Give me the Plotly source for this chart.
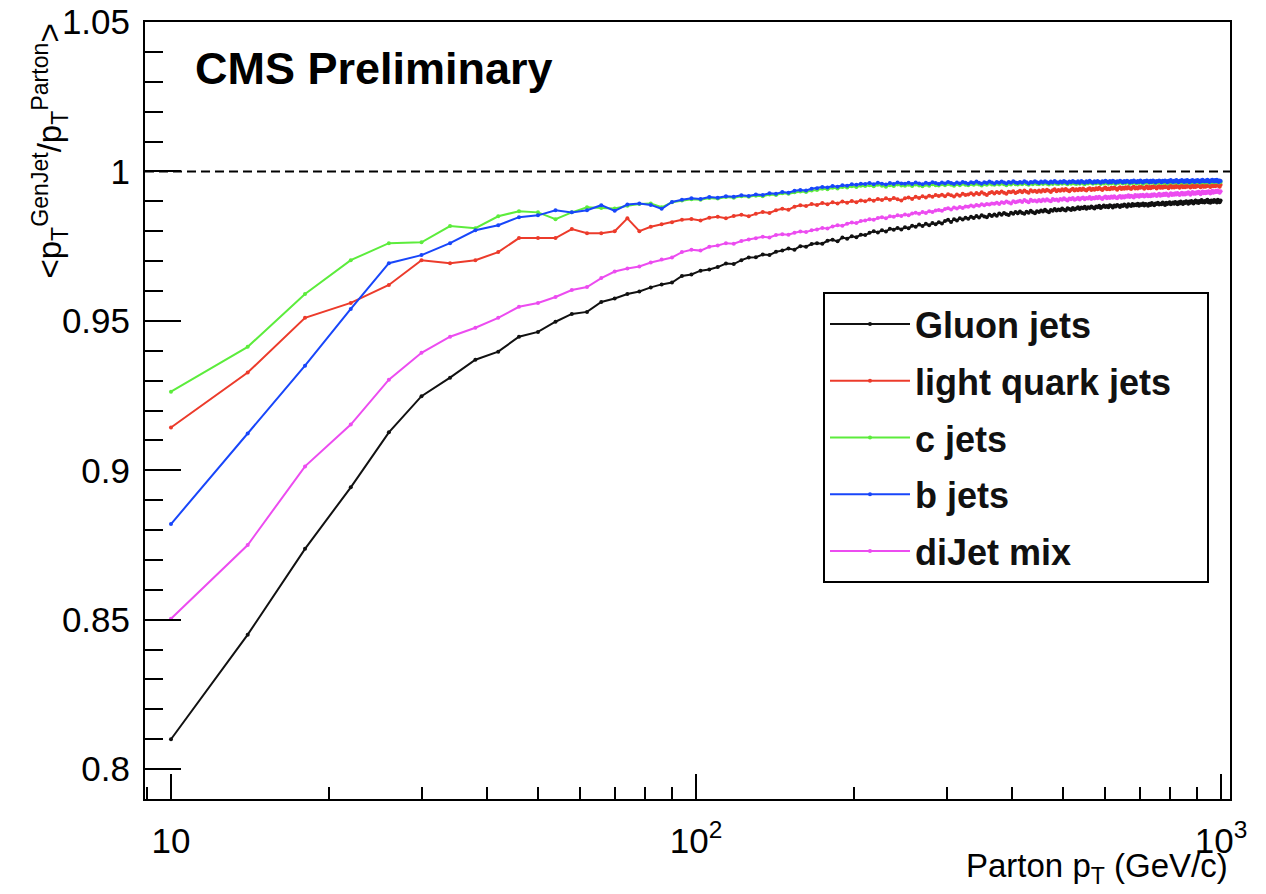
import plotly.graph_objects as go

# Parton pT bin centres (GeV/c), 4 GeV wide bins from 10 to 998
PT_GEV = list(range(10, 1000, 4))

# <pT(GenJet)/pT(Parton)> per bin, one row = 10 bins (40 GeV)
GLUON = [
    0.8100, 0.8450, 0.8737, 0.8943, 0.9127, 0.9248, 0.9310, 0.9370, 0.9397, 0.9447,
    0.9463, 0.9497, 0.9523, 0.9530, 0.9563, 0.9575, 0.9590, 0.9598, 0.9612, 0.9622,
    0.9628, 0.9650, 0.9655, 0.9668, 0.9672, 0.9680, 0.9692, 0.9690, 0.9703, 0.9712,
    0.9713, 0.9722, 0.9720, 0.9731, 0.9735, 0.9742, 0.9738, 0.9750, 0.9748, 0.9757,
    0.9760, 0.9758, 0.9768, 0.9771, 0.9766, 0.9779, 0.9775, 0.9783, 0.9780, 0.9788,
    0.9787, 0.9795, 0.9800, 0.9796, 0.9803, 0.9799, 0.9808, 0.9805, 0.9811, 0.9806,
    0.9813, 0.9810, 0.9818, 0.9815, 0.9822, 0.9817, 0.9825, 0.9820, 0.9827, 0.9823,
    0.9830, 0.9826, 0.9834, 0.9838, 0.9831, 0.9840, 0.9836, 0.9843, 0.9839, 0.9845,
    0.9842, 0.9848, 0.9844, 0.9851, 0.9846, 0.9853, 0.9849, 0.9847, 0.9855, 0.9851,
    0.9856, 0.9852, 0.9859, 0.9855, 0.9861, 0.9857, 0.9854, 0.9862, 0.9858, 0.9864,
    0.9860, 0.9866, 0.9861, 0.9858, 0.9865, 0.9862, 0.9868, 0.9863, 0.9860, 0.9867,
    0.9864, 0.9869, 0.9866, 0.9872, 0.9867, 0.9863, 0.9871, 0.9868, 0.9874, 0.9869,
    0.9873, 0.9870, 0.9876, 0.9872, 0.9869, 0.9877, 0.9874, 0.9871, 0.9878, 0.9873,
    0.9876, 0.9880, 0.9874, 0.9879, 0.9877, 0.9882, 0.9875, 0.9880, 0.9878, 0.9883,
    0.9879, 0.9876, 0.9883, 0.9880, 0.9885, 0.9878, 0.9882, 0.9886, 0.9881, 0.9884,
    0.9880, 0.9887, 0.9884, 0.9879, 0.9886, 0.9883, 0.9888, 0.9885, 0.9881, 0.9887,
    0.9884, 0.9889, 0.9886, 0.9882, 0.9890, 0.9887, 0.9884, 0.9891, 0.9886, 0.9889,
    0.9887, 0.9892, 0.9885, 0.9890, 0.9888, 0.9893, 0.9886, 0.9891, 0.9889, 0.9885,
    0.9892, 0.9888, 0.9894, 0.9890, 0.9887, 0.9893, 0.9891, 0.9895, 0.9889, 0.9892,
    0.9890, 0.9896, 0.9893, 0.9888, 0.9895, 0.9891, 0.9894, 0.9897, 0.9890, 0.9893,
    0.9896, 0.9892, 0.9898, 0.9894, 0.9890, 0.9897, 0.9893, 0.9899, 0.9895, 0.9891,
    0.9898, 0.9894, 0.9900, 0.9896, 0.9892, 0.9899, 0.9895, 0.9901, 0.9897, 0.9893,
    0.9899, 0.9903, 0.9896, 0.9900, 0.9894, 0.9901, 0.9898, 0.9904, 0.9897, 0.9900,
    0.9896, 0.9902, 0.9899, 0.9905, 0.9897, 0.9901, 0.9895, 0.9903, 0.9900, 0.9898,
    0.9904, 0.9899, 0.9902, 0.9896, 0.9905, 0.9900, 0.9897, 0.9903,
]

LIGHT_QUARK = [
    0.9143, 0.9327, 0.9510, 0.9560, 0.9620, 0.9703, 0.9693, 0.9703, 0.9730, 0.9777,
    0.9777, 0.9777, 0.9807, 0.9793, 0.9793, 0.9800, 0.9843, 0.9800, 0.9815, 0.9823,
    0.9830, 0.9838, 0.9841, 0.9836, 0.9845, 0.9848, 0.9843, 0.9851, 0.9855, 0.9850,
    0.9858, 0.9864, 0.9861, 0.9870, 0.9875, 0.9872, 0.9882, 0.9887, 0.9884, 0.9891,
    0.9888, 0.9894, 0.9890, 0.9897, 0.9893, 0.9899, 0.9895, 0.9901, 0.9897, 0.9903,
    0.9900, 0.9906, 0.9902, 0.9908, 0.9904, 0.9910, 0.9905, 0.9911, 0.9907, 0.9903,
    0.9910, 0.9913, 0.9908, 0.9915, 0.9911, 0.9917, 0.9913, 0.9919, 0.9915, 0.9921,
    0.9918, 0.9922, 0.9917, 0.9924, 0.9920, 0.9916, 0.9923, 0.9919, 0.9925, 0.9921,
    0.9923, 0.9927, 0.9922, 0.9928, 0.9924, 0.9930, 0.9925, 0.9921, 0.9928, 0.9931,
    0.9926, 0.9931, 0.9928, 0.9933, 0.9929, 0.9925, 0.9932, 0.9930, 0.9934, 0.9928,
    0.9931, 0.9935, 0.9930, 0.9936, 0.9932, 0.9929, 0.9937, 0.9933, 0.9935, 0.9931,
    0.9936, 0.9932, 0.9938, 0.9934, 0.9939, 0.9935, 0.9931, 0.9937, 0.9940, 0.9934,
    0.9938, 0.9935, 0.9940, 0.9936, 0.9941, 0.9937, 0.9934, 0.9939, 0.9942, 0.9936,
    0.9940, 0.9937, 0.9942, 0.9938, 0.9943, 0.9939, 0.9936, 0.9941, 0.9944, 0.9938,
    0.9942, 0.9939, 0.9944, 0.9940, 0.9945, 0.9941, 0.9938, 0.9943, 0.9946, 0.9940,
    0.9943, 0.9940, 0.9945, 0.9942, 0.9946, 0.9943, 0.9939, 0.9944, 0.9947, 0.9941,
    0.9945, 0.9942, 0.9947, 0.9943, 0.9948, 0.9944, 0.9941, 0.9946, 0.9949, 0.9943,
    0.9946, 0.9943, 0.9948, 0.9945, 0.9949, 0.9946, 0.9942, 0.9947, 0.9950, 0.9944,
    0.9948, 0.9944, 0.9949, 0.9946, 0.9951, 0.9947, 0.9943, 0.9949, 0.9951, 0.9945,
    0.9949, 0.9945, 0.9950, 0.9947, 0.9952, 0.9948, 0.9944, 0.9950, 0.9952, 0.9946,
    0.9950, 0.9946, 0.9951, 0.9948, 0.9953, 0.9949, 0.9945, 0.9951, 0.9953, 0.9947,
    0.9951, 0.9947, 0.9952, 0.9949, 0.9954, 0.9950, 0.9946, 0.9952, 0.9954, 0.9948,
    0.9952, 0.9948, 0.9953, 0.9950, 0.9955, 0.9951, 0.9947, 0.9953, 0.9955, 0.9949,
    0.9953, 0.9949, 0.9954, 0.9951, 0.9956, 0.9952, 0.9948, 0.9954, 0.9956, 0.9950,
    0.9954, 0.9950, 0.9955, 0.9952, 0.9957, 0.9953, 0.9949, 0.9955,
]

C_JETS = [
    0.9263, 0.9413, 0.9590, 0.9703, 0.9760, 0.9763, 0.9817, 0.9810, 0.9850, 0.9867,
    0.9863, 0.9840, 0.9863, 0.9880, 0.9878, 0.9876, 0.9885, 0.9891, 0.9893, 0.9880,
    0.9897, 0.9903, 0.9907, 0.9905, 0.9911, 0.9909, 0.9914, 0.9912, 0.9917, 0.9915,
    0.9919, 0.9917, 0.9923, 0.9921, 0.9927, 0.9925, 0.9930, 0.9933, 0.9931, 0.9936,
    0.9938, 0.9942, 0.9940, 0.9945, 0.9943, 0.9948, 0.9946, 0.9950, 0.9948, 0.9952,
    0.9951, 0.9954, 0.9950, 0.9955, 0.9952, 0.9949, 0.9954, 0.9951, 0.9956, 0.9953,
    0.9952, 0.9955, 0.9951, 0.9956, 0.9953, 0.9950, 0.9955, 0.9952, 0.9957, 0.9954,
    0.9953, 0.9957, 0.9954, 0.9958, 0.9955, 0.9952, 0.9957, 0.9954, 0.9959, 0.9955,
    0.9954, 0.9958, 0.9955, 0.9959, 0.9956, 0.9953, 0.9958, 0.9955, 0.9960, 0.9956,
    0.9955, 0.9959, 0.9956, 0.9960, 0.9957, 0.9954, 0.9959, 0.9956, 0.9961, 0.9957,
    0.9956, 0.9960, 0.9957, 0.9961, 0.9958, 0.9955, 0.9960, 0.9957, 0.9962, 0.9958,
    0.9957, 0.9961, 0.9958, 0.9962, 0.9959, 0.9956, 0.9961, 0.9958, 0.9963, 0.9959,
    0.9958, 0.9962, 0.9959, 0.9963, 0.9960, 0.9957, 0.9962, 0.9959, 0.9963, 0.9960,
    0.9958, 0.9962, 0.9959, 0.9964, 0.9960, 0.9957, 0.9962, 0.9960, 0.9964, 0.9961,
    0.9959, 0.9963, 0.9960, 0.9964, 0.9961, 0.9958, 0.9963, 0.9960, 0.9965, 0.9961,
    0.9959, 0.9963, 0.9960, 0.9965, 0.9961, 0.9958, 0.9963, 0.9961, 0.9965, 0.9962,
    0.9960, 0.9964, 0.9961, 0.9965, 0.9962, 0.9959, 0.9964, 0.9961, 0.9966, 0.9962,
    0.9960, 0.9964, 0.9961, 0.9966, 0.9962, 0.9959, 0.9964, 0.9962, 0.9966, 0.9963,
    0.9961, 0.9965, 0.9962, 0.9966, 0.9963, 0.9960, 0.9965, 0.9962, 0.9967, 0.9963,
    0.9961, 0.9965, 0.9962, 0.9967, 0.9963, 0.9960, 0.9965, 0.9963, 0.9967, 0.9964,
    0.9962, 0.9966, 0.9963, 0.9967, 0.9964, 0.9961, 0.9966, 0.9963, 0.9968, 0.9964,
    0.9962, 0.9966, 0.9963, 0.9968, 0.9964, 0.9961, 0.9966, 0.9964, 0.9968, 0.9965,
    0.9963, 0.9967, 0.9964, 0.9968, 0.9965, 0.9962, 0.9967, 0.9964, 0.9969, 0.9965,
    0.9963, 0.9967, 0.9964, 0.9969, 0.9965, 0.9962, 0.9967, 0.9965, 0.9969, 0.9966,
    0.9964, 0.9968, 0.9965, 0.9969, 0.9966, 0.9963, 0.9968, 0.9965,
]

B_JETS = [
    0.8820, 0.9123, 0.9350, 0.9540, 0.9693, 0.9720, 0.9760, 0.9803, 0.9820, 0.9847,
    0.9853, 0.9870, 0.9863, 0.9870, 0.9887, 0.9868, 0.9889, 0.9893, 0.9888, 0.9875,
    0.9898, 0.9905, 0.9910, 0.9908, 0.9914, 0.9912, 0.9917, 0.9915, 0.9920, 0.9918,
    0.9923, 0.9921, 0.9927, 0.9925, 0.9931, 0.9929, 0.9935, 0.9938, 0.9936, 0.9942,
    0.9944, 0.9948, 0.9946, 0.9951, 0.9949, 0.9954, 0.9952, 0.9957, 0.9955, 0.9959,
    0.9958, 0.9961, 0.9957, 0.9962, 0.9959, 0.9956, 0.9961, 0.9958, 0.9963, 0.9960,
    0.9959, 0.9962, 0.9958, 0.9963, 0.9960, 0.9957, 0.9962, 0.9959, 0.9964, 0.9961,
    0.9958, 0.9963, 0.9960, 0.9965, 0.9961, 0.9958, 0.9963, 0.9960, 0.9965, 0.9962,
    0.9959, 0.9964, 0.9961, 0.9966, 0.9962, 0.9959, 0.9964, 0.9961, 0.9966, 0.9963,
    0.9960, 0.9965, 0.9962, 0.9966, 0.9963, 0.9960, 0.9965, 0.9962, 0.9967, 0.9963,
    0.9961, 0.9965, 0.9962, 0.9967, 0.9964, 0.9960, 0.9965, 0.9963, 0.9967, 0.9964,
    0.9961, 0.9966, 0.9963, 0.9967, 0.9964, 0.9961, 0.9966, 0.9963, 0.9968, 0.9964,
    0.9962, 0.9966, 0.9963, 0.9968, 0.9965, 0.9961, 0.9966, 0.9964, 0.9968, 0.9965,
    0.9963, 0.9967, 0.9962, 0.9968, 0.9965, 0.9962, 0.9967, 0.9964, 0.9969, 0.9965,
    0.9962, 0.9967, 0.9964, 0.9968, 0.9965, 0.9962, 0.9967, 0.9965, 0.9969, 0.9966,
    0.9963, 0.9968, 0.9964, 0.9969, 0.9966, 0.9962, 0.9967, 0.9965, 0.9969, 0.9966,
    0.9963, 0.9968, 0.9965, 0.9969, 0.9966, 0.9963, 0.9968, 0.9965, 0.9970, 0.9966,
    0.9964, 0.9968, 0.9965, 0.9970, 0.9966, 0.9963, 0.9968, 0.9966, 0.9970, 0.9967,
    0.9964, 0.9969, 0.9965, 0.9970, 0.9967, 0.9963, 0.9968, 0.9966, 0.9970, 0.9967,
    0.9964, 0.9969, 0.9966, 0.9970, 0.9967, 0.9964, 0.9969, 0.9966, 0.9971, 0.9967,
    0.9965, 0.9969, 0.9966, 0.9971, 0.9967, 0.9964, 0.9969, 0.9967, 0.9971, 0.9968,
    0.9965, 0.9970, 0.9966, 0.9971, 0.9968, 0.9964, 0.9969, 0.9967, 0.9971, 0.9968,
    0.9965, 0.9970, 0.9967, 0.9971, 0.9968, 0.9965, 0.9970, 0.9967, 0.9972, 0.9968,
    0.9966, 0.9970, 0.9967, 0.9972, 0.9968, 0.9965, 0.9970, 0.9968, 0.9972, 0.9969,
    0.9966, 0.9971, 0.9967, 0.9972, 0.9969, 0.9965, 0.9970, 0.9968,
]

DIJET_MIX = [
    0.8503, 0.8750, 0.9013, 0.9153, 0.9303, 0.9393, 0.9447, 0.9477, 0.9510, 0.9547,
    0.9560, 0.9580, 0.9603, 0.9613, 0.9643, 0.9665, 0.9675, 0.9682, 0.9695, 0.9705,
    0.9712, 0.9730, 0.9738, 0.9735, 0.9748, 0.9752, 0.9760, 0.9758, 0.9767, 0.9772,
    0.9776, 0.9781, 0.9779, 0.9787, 0.9790, 0.9788, 0.9795, 0.9799, 0.9797, 0.9803,
    0.9806, 0.9811, 0.9809, 0.9816, 0.9820, 0.9818, 0.9825, 0.9829, 0.9827, 0.9834,
    0.9836, 0.9840, 0.9838, 0.9844, 0.9847, 0.9843, 0.9850, 0.9848, 0.9853, 0.9851,
    0.9856, 0.9853, 0.9859, 0.9862, 0.9858, 0.9864, 0.9861, 0.9867, 0.9864, 0.9869,
    0.9871, 0.9868, 0.9874, 0.9877, 0.9873, 0.9879, 0.9876, 0.9881, 0.9878, 0.9883,
    0.9882, 0.9886, 0.9883, 0.9888, 0.9885, 0.9890, 0.9887, 0.9891, 0.9889, 0.9893,
    0.9892, 0.9895, 0.9891, 0.9897, 0.9894, 0.9899, 0.9896, 0.9893, 0.9900, 0.9897,
    0.9899, 0.9902, 0.9898, 0.9904, 0.9900, 0.9897, 0.9905, 0.9901, 0.9903, 0.9899,
    0.9904, 0.9900, 0.9906, 0.9902, 0.9907, 0.9903, 0.9900, 0.9908, 0.9904, 0.9906,
    0.9902, 0.9908, 0.9905, 0.9910, 0.9906, 0.9903, 0.9909, 0.9907, 0.9911, 0.9905,
    0.9908, 0.9912, 0.9906, 0.9910, 0.9913, 0.9907, 0.9911, 0.9909, 0.9914, 0.9908,
    0.9912, 0.9909, 0.9914, 0.9910, 0.9915, 0.9911, 0.9908, 0.9913, 0.9916, 0.9910,
    0.9914, 0.9911, 0.9916, 0.9912, 0.9917, 0.9913, 0.9910, 0.9915, 0.9918, 0.9912,
    0.9917, 0.9913, 0.9918, 0.9915, 0.9920, 0.9914, 0.9919, 0.9916, 0.9913, 0.9921,
    0.9917, 0.9920, 0.9915, 0.9921, 0.9918, 0.9922, 0.9916, 0.9919, 0.9923, 0.9917,
    0.9920, 0.9917, 0.9923, 0.9919, 0.9924, 0.9921, 0.9918, 0.9922, 0.9925, 0.9919,
    0.9923, 0.9920, 0.9925, 0.9921, 0.9926, 0.9922, 0.9919, 0.9924, 0.9927, 0.9921,
    0.9925, 0.9922, 0.9927, 0.9923, 0.9928, 0.9924, 0.9921, 0.9926, 0.9929, 0.9923,
    0.9927, 0.9923, 0.9928, 0.9925, 0.9930, 0.9926, 0.9922, 0.9928, 0.9931, 0.9925,
    0.9929, 0.9925, 0.9930, 0.9927, 0.9932, 0.9928, 0.9924, 0.9930, 0.9933, 0.9927,
    0.9931, 0.9927, 0.9932, 0.9929, 0.9934, 0.9930, 0.9926, 0.9932, 0.9935, 0.9929,
    0.9933, 0.9930, 0.9935, 0.9931, 0.9936, 0.9932, 0.9929, 0.9934,
]

SERIES = [
    ("Gluon jets", GLUON, "#111111"),
    ("light quark jets", LIGHT_QUARK, "#ec3b2b"),
    ("c jets", C_JETS, "#5cec3c"),
    ("b jets", B_JETS, "#1846fa"),
    ("diJet mix", DIJET_MIX, "#ec4cf0"),
]

X_TICKS = [10, 100, 1000]
X_TICKTEXT = ["10", "10<sup>2</sup>", "10<sup>3</sup>"]
Y_TICKS = [0.8, 0.85, 0.9, 0.95, 1.0, 1.05]
Y_TICKTEXT = ["0.8", "0.85", "0.9", "0.95", "1", "1.05"]

FONT = "Liberation Sans, Arial, Helvetica, sans-serif"
# widest legend label gets trailing padding so the box keeps some room on the right
LEGEND_PAD = {"light quark jets": "&nbsp;&nbsp;&nbsp;"}

fig = go.Figure()
for i, (name, vals, color) in enumerate(SERIES):
    fig.add_trace(go.Scatter(
        x=PT_GEV[:len(vals)], y=vals,
        name=f"<b>{name}</b>{LEGEND_PAD.get(name, '')}", mode="lines+markers",
        line=dict(color=color, width=2),
        marker=dict(color=color, size=4),
        legendgroup=f"g{i}",
    ))

# reference line at unit response
fig.add_hline(y=1.0, line=dict(color="black", width=2, dash="9px,5px"))

fig.update_layout(
    width=1266, height=894,
    margin=dict(l=145, r=36, t=22, b=95, autoexpand=False),
    paper_bgcolor="white", plot_bgcolor="white",
    font=dict(family=FONT, color="black"),
    showlegend=True,
    legend=dict(
        x=(823 - 145) / 1085, y=(799 - 292) / 777, xanchor="left", yanchor="top",
        bordercolor="black", borderwidth=2, bgcolor="white",
        font=dict(family=FONT, size=36, color="#111"),
        itemwidth=80, tracegroupgap=7, traceorder="grouped",
    ),
    xaxis=dict(
        type="log", range=[0.9505, 3.017], automargin=False,
        tickmode="array", tickvals=X_TICKS, ticktext=X_TICKTEXT,
        ticks="inside", ticklen=25, tickwidth=2, tickcolor="black",
        minor=dict(ticks="inside", ticklen=12, tickwidth=2, tickcolor="black",
                   dtick="D1", showgrid=False),
        showline=True, linecolor="black", linewidth=2, mirror=True,
        showgrid=False, zeroline=False,
        tickfont=dict(family=FONT, size=35, color="black"),
        ticklabelstandoff=10,
    ),
    yaxis=dict(
        range=[0.79, 1.05], automargin=False,
        tickmode="array", tickvals=Y_TICKS, ticktext=Y_TICKTEXT,
        ticks="inside", ticklen=36, tickwidth=2, tickcolor="black",
        minor=dict(ticks="inside", ticklen=18, tickwidth=2, tickcolor="black",
                   dtick=0.01, tick0=0.8, showgrid=False),
        showline=True, linecolor="black", linewidth=2, mirror=True,
        showgrid=False, zeroline=False,
        tickfont=dict(family=FONT, size=35, color="black"),
        ticklabelstandoff=6,
    ),
    annotations=[
        dict(text="<b>CMS Preliminary</b>", xref="paper", yref="paper",
             x=(193 - 145) / 1085, y=1 - (68 - 22) / 777,
             xanchor="left", yanchor="middle", showarrow=False,
             font=dict(family=FONT, size=45, color="black")),
        dict(text="Parton p<sub>T</sub> (GeV/c)", xref="paper", yref="paper",
             x=1.0, y=-(868 - 799) / 777, xanchor="right", yanchor="middle",
             showarrow=False, font=dict(family=FONT, size=33, color="black")),
        dict(text="&lt;p<sub>T</sub><sup>GenJet</sup>/p<sub>T</sub><sup>Parton</sup>&gt;",
             xref="paper", yref="paper", x=-(145 - 50) / 1085, y=1.0,
             xanchor="center", yanchor="top", textangle=-90, showarrow=False,
             font=dict(family=FONT, size=33, color="black")),
    ],
)

fig.write_html("out.html")
